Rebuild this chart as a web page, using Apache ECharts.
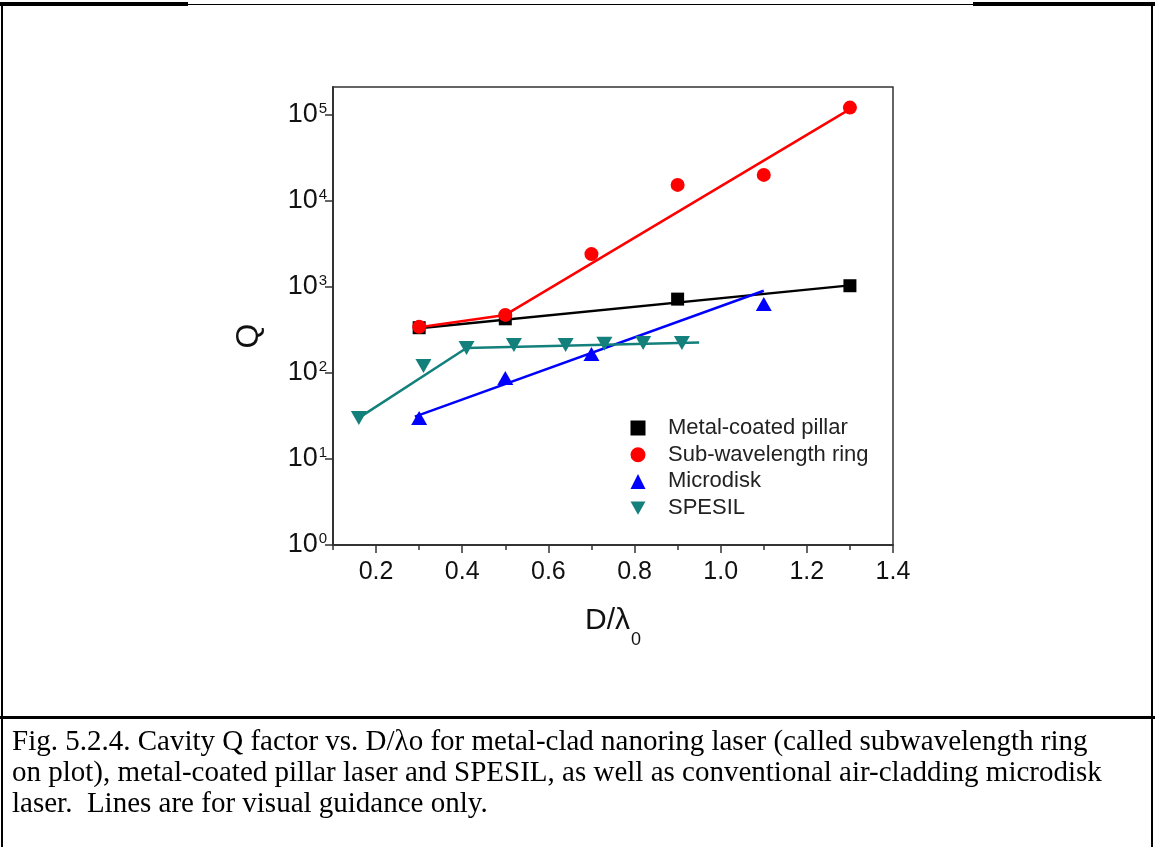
<!DOCTYPE html>
<html>
<head>
<meta charset="utf-8">
<script src="https://cdn.jsdelivr.net/npm/echarts@6/dist/echarts.min.js"></script>
<style>
html,body{margin:0;padding:0;background:#fff;}
#chart{width:1155px;height:847px;}
</style>
</head>
<body>
<div id="chart"></div>
<script>
// ---- data ----
const seriesNames = ['Metal-coated pillar', 'Sub-wavelength ring', 'Microdisk', 'SPESIL'];

const pillarX = [0.3, 0.5, 0.9, 1.3];
const pillarQ = [335, 425, 720, 1030];

const ringX = [0.3, 0.5, 0.7, 0.9, 1.1, 1.3];
const ringQ = [343, 472, 2400, 15300, 20000, 121000];

const diskX = [0.3, 0.5, 0.7, 1.1];
const diskQ = [30, 87, 166, 630];

const spesilX = [0.16, 0.31, 0.41, 0.52, 0.64, 0.73, 0.82, 0.91];
const spesilQ = [30, 120, 195, 211, 211, 218, 222, 222];

// guide lines ("for visual guidance only")
const pillarLineX = [0.3, 1.3];
const pillarLineQ = [330, 1040];
const ringLineX = [0.3, 0.5, 1.3];
const ringLineQ = [340, 472, 116000];
const diskLineX = [0.29, 1.1];
const diskLineQ = [31, 900];
const spesilLineX = [0.16, 0.41, 0.95];
const spesilLineQ = [30, 195, 225];

const xTickLabels = [0.2, 0.4, 0.6, 0.8, 1.0, 1.2, 1.4];
const xMinorTicks = [0.1, 0.3, 0.5, 0.7, 0.9, 1.1, 1.3];
const yTickValues = [1, 10, 100, 1000, 10000, 100000];

const captionLines = [
  'Fig. 5.2.4. Cavity Q factor vs. D/\u03bbo for metal-clad nanoring laser (called subwavelength ring',
  'on plot), metal-coated pillar laser and SPESIL, as well as conventional air-cladding microdisk',
  'laser.  Lines are for visual guidance only.'
];

// ---- build ----
const zip = (xs, ys) => xs.map((x, i) => [x, ys[i]]);
const SANS = '"Liberation Sans", Arial, sans-serif';
const colors = ['#000000', '#ff0000', '#0000ff', '#14807c'];
const downTriangle = 'path://M0,0L16,0L8,14Z';

const chart = echarts.init(document.getElementById('chart'), null, {renderer: 'canvas'});

const scatter = (name, data, symbol, size, color) => ({
  name, type: 'scatter', data, symbol, symbolSize: size,
  itemStyle: {color, opacity: 1}, z: 5, xAxisIndex: 0
});
const guide = (data, color) => ({
  type: 'line', data, showSymbol: false, symbol: 'none', silent: true,
  lineStyle: {color, width: 2.5}, z: 3, xAxisIndex: 0
});

chart.setOption({
  animation: false,
  backgroundColor: '#fff',
  grid: {left: 333, right: 262, top: 87, bottom: 302, show: true, borderColor: '#333', borderWidth: 1.5, containLabel: false},
  xAxis: [{
    type: 'value', min: 0.1, max: 1.4, interval: 0.1,
    axisLine: {show: true, onZero: false, lineStyle: {color: '#333', width: 2}},
    axisTick: {show: true, inside: false, length: 8, customValues: xTickLabels, lineStyle: {color: '#333', width: 1.5}},
    axisLabel: {show: true, customValues: xTickLabels, margin: 15, fontFamily: SANS, fontSize: 25, color: '#111',
      formatter: v => v.toFixed(1)},
    splitLine: {show: false},
    name: '{m|D/\u03bb}{s|0}', nameLocation: 'middle', nameGap: 48,
    nameTextStyle: {rich: {
      m: {fontFamily: SANS, fontSize: 30, color: '#111'},
      s: {fontFamily: SANS, fontSize: 18, color: '#111', padding: [38, 0, 0, 1]}
    }}
  }, {
    type: 'value', min: 0.1, max: 1.4, position: 'bottom', offset: 0,
    axisLine: {show: false},
    axisTick: {show: true, length: 5, customValues: xMinorTicks, lineStyle: {color: '#333', width: 1.5}},
    axisLabel: {show: false},
    splitLine: {show: false}
  }],
  yAxis: {
    type: 'log', logBase: 10, min: 1, max: 210000,
    axisLine: {show: true, onZero: false, lineStyle: {color: '#333', width: 2}},
    axisTick: {show: true, inside: false, length: 8, customValues: yTickValues, lineStyle: {color: '#333', width: 1.5}},
    axisLabel: {show: true, customValues: yTickValues, margin: 6,
      formatter: v => '{b|10}{s|' + Math.round(Math.log10(v)) + '}',
      rich: {
        b: {fontFamily: SANS, fontSize: 27, color: '#111'},
        s: {fontFamily: SANS, fontSize: 15, color: '#111', padding: [0, 0, 12, 1]}
      }},
    splitLine: {show: false},
    minorTick: {show: false},
    name: 'Q', nameLocation: 'middle', nameGap: 68,
    nameTextStyle: {fontFamily: SANS, fontSize: 32, color: '#111', padding: [0, 40, 0, 0]}
  },
  legend: {
    show: true, orient: 'vertical', left: 625.5, top: 412,
    itemWidth: 15, itemHeight: 15, itemGap: 4.7,
    data: [
      {name: seriesNames[0], icon: 'rect'},
      {name: seriesNames[1], icon: 'circle'},
      {name: seriesNames[2], icon: 'triangle'},
      {name: seriesNames[3], icon: downTriangle}
    ],
    formatter: name => '{t|' + name + '}',
    textStyle: {fontFamily: SANS, fontSize: 22, color: '#222',
      rich: {t: {fontFamily: SANS, fontSize: 22, lineHeight: 22, color: '#222', padding: [0, 0, 0, 17.5]}}}
  },
  series: [
    guide(zip(pillarLineX, pillarLineQ), colors[0]),
    guide(zip(ringLineX, ringLineQ), colors[1]),
    guide(zip(diskLineX, diskLineQ), colors[2]),
    guide(zip(spesilLineX, spesilLineQ), colors[3]),
    scatter(seriesNames[0], zip(pillarX, pillarQ), 'rect', 13, colors[0]),
    scatter(seriesNames[1], zip(ringX, ringQ), 'circle', 14, colors[1]),
    scatter(seriesNames[2], zip(diskX, diskQ), 'triangle', [16, 14], colors[2]),
    scatter(seriesNames[3], zip(spesilX, spesilQ), downTriangle, [16, 14], colors[3])
  ],
  graphic: [
    {type: 'rect', shape: {x: 0, y: 2, width: 188, height: 4}, style: {fill: '#000'}},
    {type: 'rect', shape: {x: 188, y: 4, width: 785, height: 1}, style: {fill: '#000'}},
    {type: 'rect', shape: {x: 973, y: 2, width: 182, height: 4}, style: {fill: '#000'}},
    {type: 'rect', shape: {x: 1, y: 2, width: 2, height: 845}, style: {fill: '#000'}},
    {type: 'rect', shape: {x: 1151, y: 2, width: 2, height: 845}, style: {fill: '#000'}},
    {type: 'rect', shape: {x: 0, y: 716, width: 1155, height: 3}, style: {fill: '#000'}},
    {type: 'text', left: 12, top: 727, style: {
      text: captionLines.join('\n'), font: '29px "Liberation Serif", "Times New Roman", serif',
      lineHeight: 31, fill: '#000'
    }}
  ]
});
</script>
</body>
</html>
